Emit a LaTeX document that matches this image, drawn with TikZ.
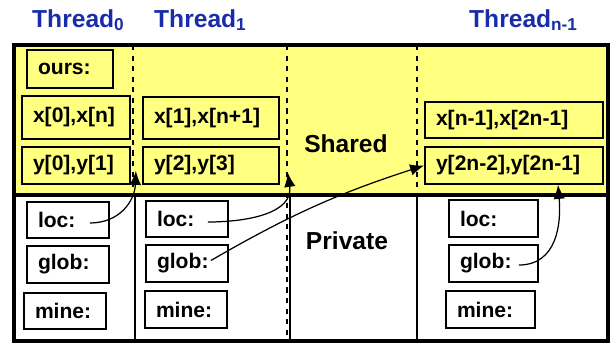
\documentclass[tikz,border=0pt]{standalone}
\usepackage{fontspec}
\setmainfont{Liberation Sans}
\usetikzlibrary{arrows.meta}
\definecolor{sharedyellow}{RGB}{255,255,128}
\definecolor{threadblue}{RGB}{25,45,170}

\begin{document}
\begin{tikzpicture}[
    x=0.02cm, y=-0.02cm,
    cell/.style={draw, line width=1pt, text width=#1, align=left, inner xsep=0.22cm, inner ysep=0pt, minimum height=0.74cm, font=\bfseries\fontsize{12}{14}\selectfont},
    sharedcell/.style={cell=#1, fill=sharedyellow},
    privcell/.style={cell=#1, fill=white},
    title/.style={font=\bfseries\fontsize{14}{16}\selectfont, text=threadblue},
    region/.style={font=\bfseries\fontsize{14}{16}\selectfont},
    divider/.style={line width=1.7pt},
    arrow/.style={-{Latex[length=2.8mm,width=2.3mm]}, line width=0.7pt}
]
\useasboundingbox (0,0) rectangle (610,345);

% Shared area and column separators
\fill[sharedyellow] (14,45) rectangle (608,195);
\draw[dashed, line width=0.6pt] (133,45) -- (133,195);
\draw[dashed, line width=0.6pt] (287,45) -- (287,341);
\draw[dashed, line width=0.6pt] (417,45) -- (417,195);
\draw[divider] (135,195) -- (135,341);
\draw[divider] (290,195) -- (290,341);
\draw[divider] (417,195) -- (417,341);
\draw[line width=1.8pt] (14,195) -- (608,195);
\draw[line width=1.8pt] (14,45) rectangle (608,341);

% Thread titles
\node[title, anchor=base west] (thr0) at (26,27) {Thread\textsubscript{0}};
\node[title, anchor=base west] (thr1) at (148,27) {Thread\textsubscript{1}};
\node[title, anchor=base west] (thrn) at (463,27) {Thread\textsubscript{n-1}};

% Shared cells
\node[sharedcell=1.28cm, minimum height=0.76cm] (ours) at (70,69) {ours:};
\node[sharedcell=1.72cm, minimum height=0.85cm] (x0) at (76,117.5) {x[0],x[n]};
\node[sharedcell=1.72cm] (y0) at (76,165.5) {y[0],y[1]};
\node[sharedcell=2.28cm, minimum height=0.84cm] (x1) at (211,118) {x[1],x[n+1]};
\node[sharedcell=2.28cm] (y1) at (211,165.5) {y[2],y[3]};
\node[sharedcell=3.12cm, minimum height=0.72cm] (xn) at (514,120) {x[n-1],x[2n-1]};
\node[sharedcell=3.12cm] (yn) at (514,165.5) {y[2n-2],y[2n-1]};

% Private cells
\node[privcell=1.2cm, minimum height=0.72cm] (loc0) at (68,220) {loc:};
\node[privcell=1.2cm] (glob0) at (68,264.5) {glob:};
\node[privcell=1.2cm, minimum height=0.72cm] (mine0) at (65,311) {mine:};
\node[privcell=1.2cm, minimum height=0.72cm] (loc1) at (187,219) {loc:};
\node[privcell=1.2cm] (glob1) at (187,263.5) {glob:};
\node[privcell=1.2cm] (mine1) at (186,309.5) {mine:};
\node[privcell=1.34cm] (locn) at (493.5,218.5) {loc:};
\node[privcell=1.34cm] (globn) at (493.5,263.5) {glob:};
\node[privcell=1.34cm] (minen) at (490.5,309.5) {mine:};

% Region labels
\node[region, anchor=base] (shared) at (346,152) {Shared};
\node[region, anchor=base] (private) at (347,249) {Private};

% Pointers
\draw[arrow] ([xshift=-0.4cm,yshift=-0.06cm]loc0.east) to[out=0, in=-92, looseness=1.1] ([shift={(0.1cm,0.28cm)}]y0.south east);
\draw[arrow] ([xshift=-0.42cm,yshift=-0.06cm]loc1.east) to[out=0, in=-82, looseness=1.1] ([shift={(0.16cm,0.24cm)}]y1.south east);
\draw[arrow] ([xshift=-0.36cm,yshift=0.06cm]glob1.east) to[bend left=6] (yn.west);
\draw[arrow] ([xshift=-0.4cm,yshift=-0.03cm]globn.east) to[out=0, in=-85, looseness=1.1] ([xshift=0.88cm]yn.south);

\end{tikzpicture}
\end{document}
